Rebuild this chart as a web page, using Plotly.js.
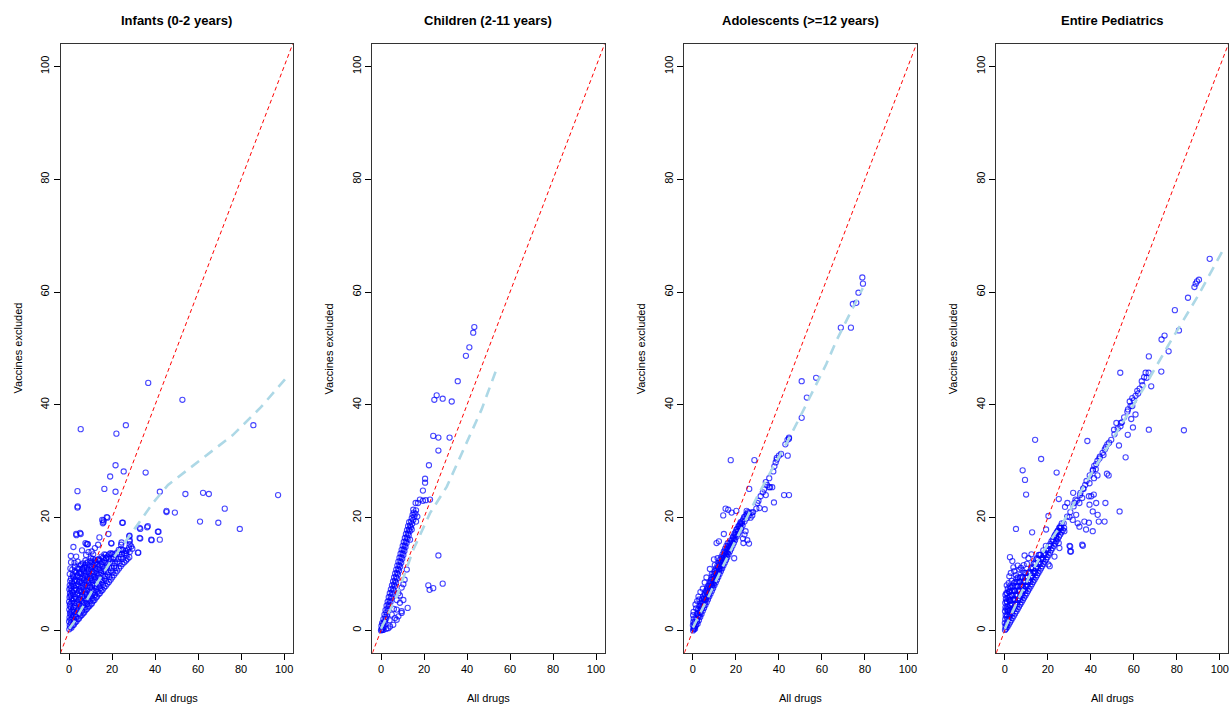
<!DOCTYPE html>
<html>
<head>
<meta charset="utf-8">
<script src="https://cdn.plot.ly/plotly-3.0.1.min.js"></script>
<style>
html,body{margin:0;padding:0;background:#fff;}
#chart{width:1230px;height:706px;}
</style>
</head>
<body>
<div id="chart"></div>
<script>
// ---------- DATA ----------
const panelTitles = ["Infants (0-2 years)", "Children (2-11 years)", "Adolescents (>=12 years)", "Entire Pediatrics"];
const xTitle = "All drugs";
const yTitle = "Vaccines excluded";
const tickVals = [0, 20, 40, 60, 80, 100];
const tickText = ["0", "20", "40", "60", "80", "100"];
const identityLine = [-4, 104];

// [All drugs, Vaccines excluded]
const infantsPoints = [
[0.1,0.2],[0.3,0.9],[0.0,1.6],[0.2,2.3],[0.4,3.0],[0.1,3.7],[0.3,4.4],[0.0,5.1],[0.2,5.9],[0.4,6.6],[0.1,7.3],[0.3,8.0],
[1.1,0.5],[0.9,1.3],[1.2,2.0],[1.0,2.7],[1.3,3.4],[0.8,4.1],[1.1,4.9],[1.2,5.6],[0.9,6.3],[1.2,7.0],[1.0,7.8],[1.3,8.5],[0.9,9.2],
[2.2,1.0],[2.4,1.8],[2.0,2.6],[2.3,3.3],[2.1,4.1],[2.4,4.9],[2.2,5.6],[2.0,6.4],[2.3,7.1],[2.1,7.9],[2.4,8.7],[2.2,9.4],
[3.4,1.6],[3.2,2.4],[3.6,3.2],[3.3,4.0],[3.5,4.8],[3.2,5.6],[3.6,6.4],[3.4,7.2],[3.3,8.0],[3.6,8.8],[3.4,9.6],[3.2,10.3],
[4.6,2.1],[4.8,3.0],[4.5,3.8],[4.7,4.6],[4.4,5.4],[4.8,6.2],[4.6,7.0],[4.5,7.8],[4.7,8.6],[4.9,9.4],[4.6,10.2],[4.4,10.9],
[5.8,2.7],[6.0,3.5],[5.7,4.3],[5.9,5.2],[6.1,6.0],[5.8,6.8],[5.6,7.6],[6.0,8.4],[5.9,9.2],[5.7,10.0],[6.1,10.8],
[7.0,3.2],[7.2,4.1],[6.9,4.9],[7.1,5.7],[7.3,6.5],[6.9,7.3],[7.2,8.1],[7.0,8.9],[7.3,9.7],[6.9,10.5],[7.1,11.3],
[8.2,3.8],[8.4,4.7],[8.1,5.5],[8.3,6.3],[8.0,7.1],[8.4,7.9],[8.2,8.7],[8.5,9.5],[8.1,10.3],[8.3,11.1],[8.0,11.9],
[9.4,4.3],[9.6,5.2],[9.3,6.0],[9.5,6.8],[9.7,7.6],[9.3,8.4],[9.6,9.2],[9.4,10.0],[9.2,10.8],[9.5,11.6],
[10.6,4.8],[10.8,5.7],[10.5,6.5],[10.7,7.3],[10.9,8.1],[10.6,8.9],[10.4,9.7],[10.8,10.5],[10.6,11.3],[10.5,12.1],
[11.8,5.4],[12.0,6.3],[11.7,7.1],[11.9,7.9],[12.1,8.7],[11.8,9.5],[11.6,10.3],[12.0,11.1],[11.9,11.9],
[13.0,6.0],[13.2,6.9],[12.9,7.7],[13.1,8.5],[13.3,9.3],[12.9,10.1],[13.2,10.9],[13.0,11.7],[13.3,12.5],
[14.3,6.6],[14.5,7.5],[14.2,8.3],[14.4,9.1],[14.1,9.9],[14.5,10.7],[14.3,11.5],[14.2,12.3],
[15.6,7.2],[15.8,8.1],[15.5,8.9],[15.7,9.7],[15.9,10.5],[15.6,11.3],[15.4,12.1],[15.8,12.9],
[17.0,7.9],[17.2,8.8],[16.9,9.6],[17.1,10.4],[17.3,11.2],[16.9,12.0],[17.2,12.8],[17.0,13.4],
[18.5,8.6],[18.7,9.5],[18.4,10.3],[18.6,11.1],[18.3,11.9],[18.7,12.7],[18.5,13.5],
[20.0,9.4],[20.2,10.3],[19.9,11.1],[20.1,11.9],[20.3,12.7],[19.8,13.5],
[21.6,10.2],[21.8,11.1],[21.5,11.9],[21.7,12.7],[21.4,13.5],
[23.2,11.0],[23.4,11.9],[23.1,12.7],[23.3,13.5],
[24.8,11.8],[25.0,12.7],[24.7,13.5],[24.9,14.2],
[26.5,12.4],[26.7,13.3],[26.4,14.1],
[28.0,13.0],[28.2,13.9],[27.9,14.7],
[0.6,0.6],[0.6,1.9],[0.7,3.3],[0.5,4.7],[0.6,6.1],[0.7,7.5],[0.5,8.8],[0.3,10.0],[0.6,11.0],
[1.7,0.9],[1.6,2.3],[1.8,3.7],[1.6,5.2],[1.7,6.7],[1.6,8.2],[1.8,9.6],[1.5,10.8],
[2.8,1.4],[2.9,2.9],[2.7,4.4],[2.8,6.0],[2.9,7.5],[2.7,9.0],[2.8,10.5],[2.6,11.3],
[4.0,2.0],[4.1,3.5],[3.9,5.1],[4.0,6.6],[4.1,8.2],[3.9,9.8],[4.0,11.0],
[5.2,2.5],[5.3,4.0],[5.1,5.6],[5.2,7.2],[5.3,8.8],[5.1,10.4],[5.2,11.5],
[6.4,3.0],[6.5,4.6],[6.3,6.2],[6.4,7.8],[6.5,9.4],[6.3,11.0],[6.5,11.9],
[7.6,3.6],[7.7,5.2],[7.5,6.8],[7.6,8.4],[7.7,10.0],[7.5,11.6],[7.6,12.4],
[8.8,4.1],[8.9,5.7],[8.7,7.3],[8.8,8.9],[8.9,10.5],[8.7,12.1],
[10.0,4.6],[10.1,6.2],[9.9,7.8],[10.0,9.4],[10.1,11.0],[9.9,12.3],
[11.2,5.2],[11.3,6.8],[11.1,8.4],[11.2,10.0],[11.3,11.6],[11.1,12.7],
[12.4,5.8],[12.5,7.4],[12.3,9.0],[12.4,10.6],[12.5,12.2],
[13.7,6.4],[13.8,8.0],[13.6,9.6],[13.7,11.2],[13.8,12.7],
[15.0,7.0],[15.1,8.6],[14.9,10.2],[15.0,11.8],[15.1,13.1],
[16.3,7.6],[16.4,9.2],[16.2,10.8],[16.3,12.4],[16.4,13.5],
[17.8,8.3],[17.9,9.9],[17.7,11.5],[17.8,13.1],
[19.3,9.0],[19.4,10.6],[19.2,12.2],[19.3,13.7],
[20.8,9.8],[20.9,11.4],[20.7,13.0],
[22.4,10.6],[22.5,12.2],[22.3,13.8],
[24.0,11.4],[24.1,13.0],[24.0,14.4],
[25.7,12.1],[25.8,13.7],
[27.2,12.7],[27.3,14.3],
[0.9,12.1],[2.5,12.0],[4.0,12.2],[5.6,11.7],[1.7,9.9],[3.3,13.1],[7.9,13.4],[7.6,15.5],[8.7,15.3],[3.3,17.1],
[5.1,17.3],[4.0,22.0],[15.4,19.6],[15.7,19.0],[17.5,20.1],[24.7,19.1],[19.6,15.5],[24.2,15.2],[25.0,14.3],[28.1,16.8],
[32.8,18.2],[36.6,18.5],[32.8,16.4],[38.2,16.1],[41.3,17.5],[32.0,13.8],[28.1,15.8],[28.9,14.9],[26.6,13.7],[23.1,14.3],
[20.3,13.6],[17.2,12.8],[14.1,12.5],[11.8,12.4],[10.2,12.8],[7.1,11.1],
[10.5,14.0],[12.0,14.6],[13.5,15.2],[11.2,13.5],[9.0,13.9],[6.0,14.2],[2.0,14.8],[0.8,13.2],
[36.8,43.9],[52.7,40.9],[5.4,35.7],[26.4,36.4],[22.0,34.9],[85.7,36.4],[21.6,29.3],[25.4,28.2],[35.6,28.0],[19.1,27.3],
[3.9,24.7],[16.4,25.1],[21.6,24.6],[42.2,24.6],[54.1,24.2],[62.3,24.4],[65.0,24.2],[97.2,24.0],[3.9,21.8],[45.3,21.2],
[45.3,21.0],[49.2,20.9],[72.4,21.6],[17.8,20.0],[16.0,19.5],[16.0,19.2],[60.9,19.3],[69.4,19.1],[25.0,19.1],[79.4,18.0],
[3.4,16.9],[5.4,17.1],[18.3,17.1],[28.0,16.7],[33.1,18.0],[36.3,18.3],[41.6,17.5],[33.1,16.3],[38.4,16.0],[42.2,16.1],
[32.2,13.8],[29.4,14.5],[28.2,16.0],[28.2,15.3],[8.1,15.3],[8.5,15.3],[14.1,16.5],[19.7,15.4],[24.4,15.6]
];
const infantsLowessX = [0, 2, 11, 19, 28, 39, 46, 51, 63, 76, 89, 101];
const infantsLowessY = [0.3, 1.3, 7.2, 12.0, 16.7, 22.6, 25.8, 27.3, 30.8, 34.6, 39.5, 44.8];

const childrenPoints = [
[0.0,0.0],[0.3,0.2],[0.6,0.1],[0.2,0.8],[0.8,0.5],[1.0,1.2],[0.5,1.3],[1.3,0.6],[1.5,1.6],[1.1,2.0],
[1.9,1.5],[2.0,2.4],[1.6,2.8],[2.4,2.1],[2.5,3.2],[2.1,3.6],[2.9,2.8],[3.0,3.9],[2.6,4.4],[3.4,3.5],
[3.5,4.6],[3.1,5.1],[3.9,4.3],[4.0,5.3],[3.6,5.9],[4.4,5.0],[4.5,6.0],[4.1,6.6],[4.9,5.7],[5.0,6.7],
[4.6,7.3],[5.4,6.4],[5.5,7.4],[5.1,8.0],[5.9,7.1],[6.0,8.1],[5.6,8.7],[6.4,7.8],[6.5,8.8],[6.1,9.4],
[6.9,8.5],[7.0,9.5],[6.6,10.1],[7.4,9.2],[7.5,10.2],[7.1,10.8],[7.9,9.9],[8.0,10.9],[7.6,11.5],[8.4,10.6],
[8.5,11.6],[8.1,12.2],[8.9,11.3],[9.0,12.3],[8.6,12.9],[9.4,12.0],[9.5,13.0],[9.1,13.6],[9.9,12.7],[10.0,13.7],
[9.6,14.3],[10.4,13.4],[10.5,14.4],[10.1,15.0],[10.9,14.1],[11.0,15.1],[10.6,15.7],[11.4,14.8],[11.5,15.8],[11.1,16.4],
[11.9,15.5],[12.0,16.5],[11.6,17.1],[12.4,16.2],[12.5,17.2],[12.1,17.8],[12.9,16.9],[13.0,17.9],[12.6,18.5],[13.4,17.6],
[13.5,18.6],[13.1,19.2],[13.9,18.3],[14.0,19.3],[14.5,18.9],[14.3,19.9],[15.0,19.6],[14.7,20.5],[15.5,20.2],[15.2,20.9],
[16.0,20.7],[16.3,21.3],[15.0,21.4],[16.9,20.2],[16.3,19.3],[14.3,17.9],[13.5,16.1],
[4.2,0.7],[5.7,1.0],[7.3,1.9],[8.1,2.5],[9.6,3.1],[3.4,0.4],[1.1,0.1],[7.3,3.7],[8.8,4.9],[10.4,5.4],
[7.3,5.4],[8.1,6.6],[9.6,7.6],[10.4,8.2],[2.5,0.3],[4.0,1.8],[5.0,2.8],[6.0,3.8],[11.0,9.0],[12.0,10.8],
[43.4,53.8],[42.9,52.8],[41.1,50.2],[39.5,48.7],[35.7,44.2],[24.8,40.9],[25.9,41.7],[28.7,41.1],[32.9,40.6],[24.3,34.5],
[26.7,34.2],[31.9,34.2],[26.7,31.9],[22.3,29.3],[20.5,26.9],[20.5,26.2],[19.5,24.8],[18.1,23.2],[19.5,23.0],[20.8,23.1],
[22.8,23.2],[16.1,22.6],[17.2,22.6],[26.7,13.3],[22.0,8.0],[22.6,7.2],[24.3,7.5],[28.7,8.3],[12.4,4.0],[8.8,6.2],
[9.6,3.4],[6.5,2.2]
];
const childrenLowessX = [0, 7.3, 15.0, 22.8, 30.6, 38.3, 46.8, 53.5];
const childrenLowessY = [0.3, 6.0, 14.3, 20.8, 25.5, 32.1, 39.2, 46.1];

const adolescentsPoints = [
[0.1,0.0],[0.3,0.4],[0.0,0.9],[0.2,1.5],[0.4,2.1],[0.1,2.7],[0.3,3.3],[0.5,0.2],[0.8,0.6],
[1.0,0.3],[1.5,1.0],[0.8,1.4],[2.2,1.2],[1.9,2.0],[2.8,1.8],[2.5,2.6],[1.8,2.9],[3.4,2.4],[3.1,3.2],
[2.4,3.7],[4.0,2.9],[3.7,3.8],[3.0,4.3],[4.6,3.5],[4.3,4.3],[3.6,4.9],[5.2,4.0],[4.9,4.9],[4.2,5.5],
[5.8,4.5],[5.5,5.4],[4.8,6.0],[6.4,5.0],[6.1,5.9],[5.4,6.5],[7.0,5.5],[6.7,6.4],[6.0,7.0],[7.6,6.0],
[7.3,6.9],[6.6,7.5],[8.2,6.5],[7.9,7.4],[7.2,8.0],[8.8,7.0],[8.5,7.9],[7.8,8.5],[9.4,7.5],[9.1,8.4],
[8.4,9.0],[10.0,8.0],[9.7,8.9],[9.0,9.5],[10.6,8.5],[10.3,9.4],[9.6,10.0],[11.2,9.0],[10.9,9.9],[10.2,10.5],
[11.8,9.5],[11.5,10.4],[10.8,11.0],[12.4,10.0],[12.1,10.9],[11.4,11.5],[13.0,10.5],[12.7,11.4],[12.0,12.0],[13.6,11.0],
[13.3,11.9],[12.6,12.5],[14.2,11.5],[13.9,12.4],[13.2,13.0],[14.8,12.0],[14.5,12.9],[13.8,13.5],[15.4,12.5],[15.1,13.4],
[14.4,14.0],[16.0,13.0],[15.7,13.9],[15.0,14.5],[16.6,13.5],[16.3,14.4],[15.6,15.0],[17.2,14.0],[16.9,14.9],[16.2,15.5],
[17.8,14.5],[17.5,15.4],[18.4,15.0],[18.1,15.9],[19.0,15.5],[18.7,16.4],[19.6,16.0],[19.3,16.9],[20.3,16.6],[20.0,17.5],
[21.0,17.1],[20.7,18.0],[21.7,17.6],[21.4,18.5],[22.4,18.1],[22.1,19.0],[23.1,18.6],[23.0,19.4],[24.0,19.3],[23.8,20.1],
[25.0,19.9],[24.8,20.6],[26.0,20.4],[25.6,21.0],
[0.6,1.1],[1.2,0.8],[1.3,2.2],[2.0,1.6],[2.2,3.0],[2.8,2.5],[3.0,3.6],[3.5,3.1],[3.7,4.4],[4.2,3.8],
[4.4,5.0],[4.9,4.4],[5.0,5.6],[5.5,5.0],[5.7,6.3],[6.2,5.6],[6.4,6.9],[6.9,6.1],[7.0,7.4],[7.5,6.6],
[7.7,7.9],[8.2,7.2],[8.4,8.5],[8.9,7.8],[9.0,9.0],[9.6,8.3],[9.7,9.6],[10.2,8.8],[10.4,10.1],[10.9,9.4],
[11.0,10.6],[11.6,9.9],[11.7,11.2],[12.2,10.5],[12.4,11.7],[12.9,11.0],[13.0,12.2],[13.6,11.6],[13.7,12.8],[14.2,12.1],
[14.4,13.3],[14.9,12.7],[15.0,13.9],[15.6,13.2],[15.7,14.4],[16.2,13.8],[16.4,15.0],[16.9,14.3],[17.0,15.5],[17.6,14.9],
[17.8,16.0],[18.4,15.5],[18.6,16.6],[19.2,16.2],[19.4,17.2],[20.0,16.9],[20.3,17.9],[21.0,17.6],[21.2,18.5],[21.9,18.3],
[22.2,19.2],[22.8,19.0],[23.4,19.7],[24.3,20.2],[25.2,20.6],[26.3,20.9],
[1.5,3.9],[2.0,5.2],[2.6,6.0],[3.5,6.8],[4.6,7.4],[5.5,8.5],[6.3,9.4],[3.0,5.5],[1.2,4.6],[8.8,10.0],
[10.2,11.6],[11.5,12.8],[9.8,12.6],
[78.8,62.6],[79.1,61.5],[77.0,59.9],[76.0,58.1],[74.4,57.9],[68.8,53.7],[73.5,53.7],[57.3,44.8],[50.6,44.2],[53.0,41.3],
[50.6,37.7],[44.7,34.2],[44.7,34.0],[44.1,31.0],[41.0,31.3],[39.0,30.6],[39.0,30.3],[37.9,29.1],[37.4,28.2],[33.9,26.3],
[36.9,25.4],[35.9,25.4],[35.5,25.4],[33.9,24.0],[33.1,25.0],[42.4,24.0],[44.7,24.0],[37.7,22.7],[30.0,22.6],[31.0,21.7],
[33.4,21.5],[29.5,21.6],[26.2,25.1],[28.6,30.2],[17.6,30.2],[15.2,21.6],[16.4,21.4],[14.1,20.4],[18.0,20.9],[25.0,21.2],
[27.6,20.4],[27.3,20.9],[20.2,21.2],[14.4,17.1],[11.0,15.5],[12.1,15.8],[25.3,16.0],[26.1,15.4],[19.2,12.8],[7.9,10.9],
[23.5,15.5],[23.3,16.3],[24.0,17.0],[24.5,17.6],[22.0,18.8],[26.8,20.0],[28.0,21.0],[30.5,23.0],[31.5,23.8],[32.5,24.5],
[34.5,25.8],[35.5,27.0],[38.5,29.8],[40.0,31.0],[43.0,33.0],[44.0,33.8]
];
const adolescentsLowessX = [0, 7, 14, 22, 30, 37, 44, 50, 56, 62, 67, 73, 79];
const adolescentsLowessY = [0.5, 5.8, 11.4, 17.5, 23.8, 28.7, 33.5, 38.0, 42.7, 47.2, 51.6, 56.2, 60.7];

const pediatricsPoints = [
[0.1,0.1],[0.3,0.7],[0.0,1.3],[0.2,2.0],[0.4,2.7],[0.1,3.4],[0.3,4.1],[0.2,4.9],[0.5,5.6],[0.3,6.3],[0.6,0.3],
[1.2,0.6],[1.0,1.3],[1.3,2.0],[1.1,2.7],[1.4,3.4],[1.2,4.2],[1.0,5.0],[1.3,5.8],[1.1,6.6],[1.4,7.4],
[2.4,1.4],[2.2,2.1],[2.5,2.8],[2.3,3.6],[2.6,4.4],[2.4,5.2],[2.2,6.0],[2.5,6.9],[2.3,7.8],[2.1,9.6],
[3.6,2.2],[3.4,3.0],[3.7,3.8],[3.5,4.6],[3.8,5.4],[3.6,6.2],[3.4,7.0],[3.7,7.9],[4.4,10.5],
[4.8,3.0],[4.6,3.8],[4.9,4.6],[4.7,5.4],[5.0,6.2],[4.8,7.0],[4.6,7.8],[4.9,8.6],
[6.0,3.8],[5.8,4.6],[6.1,5.4],[5.9,6.2],[6.2,7.0],[6.0,7.8],[5.8,8.6],[6.1,9.4],
[7.2,4.6],[7.0,5.4],[7.3,6.2],[7.1,7.0],[7.4,7.8],[7.2,8.6],[7.5,11.1],[7.0,9.4],
[8.4,5.4],[8.2,6.2],[8.5,7.0],[8.3,7.8],[8.6,8.6],[8.4,9.4],[9.1,10.2],
[9.6,6.2],[9.4,7.0],[9.7,7.8],[9.5,8.6],[9.8,9.4],[9.6,10.2],
[10.8,7.0],[10.6,7.8],[10.9,8.6],[10.7,9.4],[11.0,10.2],
[12.0,7.8],[11.8,8.6],[12.1,9.4],[11.9,10.2],[12.2,11.0],
[13.2,8.6],[13.0,9.4],[13.3,10.2],[13.1,11.0],[13.4,11.8],
[14.4,9.4],[14.2,10.2],[14.5,11.0],[14.3,11.8],[14.6,12.6],
[15.6,10.2],[15.4,11.0],[15.7,11.8],[15.5,12.6],[15.8,13.4],
[16.8,11.0],[16.6,11.8],[16.9,12.6],[16.7,13.4],
[18.0,11.8],[17.8,12.6],[18.1,13.4],[17.9,14.2],
[19.2,12.6],[19.0,13.4],[19.3,14.2],[19.1,15.0],
[20.4,13.4],[20.2,14.2],[20.5,15.0],
[21.6,14.2],[21.4,15.0],[21.7,15.8],
[22.8,15.0],[22.6,15.8],[22.9,16.6],
[24.0,15.8],[23.8,16.6],[24.1,17.4],
[25.2,16.6],[25.0,17.4],[25.3,18.2],
[26.4,17.4],[26.2,18.2],[26.5,19.0],
[27.6,18.2],[27.4,19.0],
[0.7,1.0],[0.8,2.4],[0.7,3.8],[0.8,5.2],[0.7,6.6],
[1.8,1.0],[1.9,2.4],[1.8,3.9],[1.9,5.4],[1.8,6.9],
[3.0,1.8],[3.1,3.3],[3.0,4.8],[3.1,6.3],[3.0,7.6],
[4.2,2.6],[4.3,4.1],[4.2,5.6],[4.3,7.1],[4.2,8.4],
[5.4,3.4],[5.5,4.9],[5.4,6.4],[5.5,7.9],[5.4,9.2],
[6.6,4.2],[6.7,5.7],[6.6,7.2],[6.7,8.7],
[7.8,5.0],[7.9,6.5],[7.8,8.0],[7.9,9.5],
[9.0,5.8],[9.1,7.3],[9.0,8.8],
[10.2,6.6],[10.3,8.1],[10.2,9.6],
[11.4,7.4],[11.5,8.9],[11.4,10.4],
[12.6,8.2],[12.7,9.7],[12.6,11.2],
[13.8,9.0],[13.9,10.5],[13.8,12.0],
[15.0,9.8],[15.1,11.3],[15.0,12.8],
[16.2,10.6],[16.3,12.1],[16.2,13.4],
[17.4,11.4],[17.5,12.9],
[18.6,12.2],[18.7,13.7],
[19.8,13.0],[19.9,14.5],
[21.0,13.8],[21.1,15.3],
[22.2,14.6],[22.3,16.1],
[23.4,15.4],[23.5,16.9],
[24.6,16.2],[24.7,17.7],
[25.8,17.0],[25.9,18.5],
[27.0,17.8],
[2.1,6.9],[2.6,5.4],[1.3,3.7],[4.0,11.2],[6.0,11.5],[6.8,10.8],[8.2,10.6],[5.2,9.8],[3.2,8.8],[1.8,8.4],
[0.9,8.0],[2.8,10.2],[8.8,11.6],[10.3,11.8],[11.0,12.8],[12.4,13.5],[3.5,12.3],[2.4,13.0],
[95.3,65.9],[90.3,62.2],[89.4,61.9],[88.8,61.5],[88.2,60.9],[85.2,59.0],[79.1,56.8],[81.0,53.2],[74.3,52.3],[72.9,51.6],
[76.2,49.5],[67.0,48.6],[72.8,45.9],[53.7,45.7],[65.5,45.7],[66.9,45.7],[64.8,44.9],[63.7,44.2],[68.1,43.3],[62.7,42.9],
[61.6,42.5],[60.8,41.6],[59.3,41.2],[58.1,40.6],[57.3,39.2],[59.3,39.8],[60.8,38.3],[58.8,37.5],[67.0,35.6],[83.3,35.5],
[59.6,36.0],[54.5,36.9],[53.8,36.2],[57.2,34.7],[51.9,36.8],[50.8,35.6],[53.1,32.8],[56.2,30.7],[47.7,33.0],[46.5,32.1],
[45.9,31.1],[44.2,30.8],[43.1,30.1],[41.6,29.2],[40.9,28.3],[43.1,27.5],[41.5,27.0],[42.3,28.6],[48.3,27.5],[47.5,27.8],
[38.4,33.6],[14.1,33.8],[16.9,30.4],[24.1,28.0],[8.3,28.4],[9.4,26.7],[9.9,24.1],[25.1,23.3],[20.3,20.3],[5.2,18.0],
[12.7,17.4],[19.2,17.9],[9.2,13.3],[53.4,21.1],
[46.8,22.6],[42.5,22.6],[39.4,22.3],[40.9,21.1],[43.2,20.5],[46.4,19.3],[43.7,19.3],[40.9,17.6],[36.0,15.2],[30.4,14.9],
[30.4,14.0],[31.6,19.6],[33.2,20.5],[34.7,18.4],[33.9,19.0],[37.0,19.3],[37.8,17.9],[39.1,19.1],[31.8,24.4],[32.9,23.2],
[32.4,22.6],[34.7,22.6],[36.0,23.5],[35.2,24.4],[36.6,25.1],[37.4,25.8],[39.4,26.1],[39.1,23.8],[40.2,23.8],[41.4,24.1],
[28.0,21.9],[29.1,22.6],[30.1,20.1],[27.7,17.6],[25.6,18.2],[24.6,17.6],[20.3,11.7],[20.9,11.4],[23.9,16.4],[23.5,17.0],
[25.1,15.5],[25.4,14.6],[23.1,13.1],[30.8,14.0],[30.1,15.0],[36.3,15.0],
[38.0,26.5],[39.5,27.5],[41.0,28.5],[42.5,29.5],[44.0,30.5],[45.5,31.5],[47.0,32.5],[48.5,33.3],[36.5,25.2],[35.0,24.0],
[33.5,23.0],[32.0,22.0],[30.5,21.0],[29.0,20.2],
[49.5,33.8],[51.0,34.8],[52.5,35.8],[54.0,36.8],[55.5,37.8],[57.0,38.8],[58.5,39.8],[60.0,40.8],[62.0,42.0],[64.0,43.5],[66.0,44.8]
];
const pediatricsLowessX = [0, 6.8, 12.2, 18.4, 27.7, 39.4, 51.8, 64.2, 76.7, 89.8, 102];
const pediatricsLowessY = [0.3, 6.0, 10.2, 14.3, 19.6, 27.3, 35.0, 42.7, 51.0, 59.3, 67.8];

// ---------- LAYOUT / DRAW ----------
const W = 1230, H = 706;
const boxLeft = [60.5, 372.4, 684.3, 996.2];
const boxWidth = 232.2;
const boxTop = 44, boxBottom = 653;
const font = "Liberation Sans, Arial, sans-serif";

const pointSets = [infantsPoints, childrenPoints, adolescentsPoints, pediatricsPoints];
const lowessXs = [infantsLowessX, childrenLowessX, adolescentsLowessX, pediatricsLowessX];
const lowessYs = [infantsLowessY, childrenLowessY, adolescentsLowessY, pediatricsLowessY];

const traces = [];
const layout = {
  width: W, height: H,
  margin: {l: 0, r: 0, t: 0, b: 0},
  paper_bgcolor: "#fff", plot_bgcolor: "#fff",
  showlegend: false,
  font: {family: font, size: 11, color: "#000"},
  annotations: []
};

for (let i = 0; i < 4; i++) {
  const sfx = i === 0 ? "" : String(i + 1);
  const xa = "x" + sfx, ya = "y" + sfx;
  const pts = pointSets[i];
  traces.push({
    type: "scatter", mode: "markers", xaxis: xa, yaxis: ya,
    x: pts.map(p => p[0]), y: pts.map(p => p[1]),
    marker: {symbol: "circle-open", size: 5.2, color: "rgba(0,0,255,0.72)", line: {width: 1.1, color: "rgba(0,0,255,0.72)"}},
    hoverinfo: "skip"
  });
  traces.push({
    type: "scatter", mode: "lines", xaxis: xa, yaxis: ya,
    x: identityLine, y: identityLine,
    line: {color: "#ff0000", width: 1, dash: "4px,3px"},
    hoverinfo: "skip"
  });
  traces.push({
    type: "scatter", mode: "lines", xaxis: xa, yaxis: ya,
    x: lowessXs[i], y: lowessYs[i],
    line: {color: "#ADD8E6", width: 2.6, dash: "10px,7px"},
    hoverinfo: "skip"
  });
  const l = boxLeft[i], r = boxLeft[i] + boxWidth;
  const axCommon = {
    range: [-4, 104], showgrid: false, zeroline: false,
    showline: true, mirror: true, linecolor: "#333", linewidth: 1,
    ticks: "outside", ticklen: 6, tickcolor: "#000", tickwidth: 1,
    tickvals: tickVals, ticktext: tickText,
    tickfont: {family: font, size: 11, color: "#000"}
  };
  layout["xaxis" + sfx] = Object.assign({}, axCommon, {
    domain: [l / W, r / W], anchor: ya
  });
  layout["yaxis" + sfx] = Object.assign({}, axCommon, {
    domain: [1 - boxBottom / H, 1 - boxTop / H], anchor: xa, tickangle: -90
  });
  const cx = (l + r) / 2 / W;
  layout.annotations.push({
    xref: "paper", yref: "paper", x: cx, y: 1 - 20 / H, xanchor: "center", yanchor: "middle",
    text: "<b>" + panelTitles[i].replace(">", "&gt;") + "</b>", showarrow: false,
    font: {family: font, size: 13, color: "#000"}
  });
  layout.annotations.push({
    xref: "paper", yref: "paper", x: cx, y: 1 - 698 / H, xanchor: "center", yanchor: "middle",
    text: xTitle, showarrow: false, font: {family: font, size: 11, color: "#000"}
  });
  layout.annotations.push({
    xref: "paper", yref: "paper", x: (l - 43.5) / W, y: 1 - ((boxTop + boxBottom) / 2) / H,
    xanchor: "center", yanchor: "middle", textangle: -90,
    text: yTitle, showarrow: false, font: {family: font, size: 11, color: "#000"}
  });
}

Plotly.newPlot("chart", traces, layout, {staticPlot: true, displayModeBar: false});
</script>
</body>
</html>
